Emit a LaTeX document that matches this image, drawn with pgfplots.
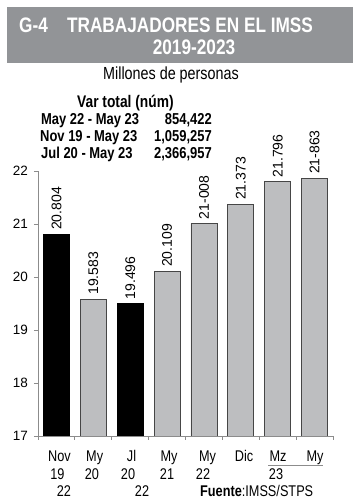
\documentclass[border=0pt]{standalone}
\usepackage{fontspec}
\setmainfont{Liberation Sans}
\newfontfamily\narrow{Liberation Sans}[FakeStretch=0.82]
\usepackage{pgfplots}
\pgfplotsset{compat=1.18}
\definecolor{titlegray}{RGB}{146,148,151}
\definecolor{bargray}{RGB}{189,190,192}
\definecolor{baredge}{RGB}{70,70,70}
\definecolor{axisgray}{RGB}{140,140,140}
\begin{document}
\begin{tikzpicture}
\begin{scope}[x=1pt,y=1pt]
\path[use as bounding box] (0,0) rectangle (360,500);
\fill[titlegray] (7,437) rectangle (353,493);
\node[anchor=base west, text=white, inner sep=0pt, font=\narrow\bfseries\fontsize{21}{21}\selectfont] at (19,467) {G-4};
\node[anchor=base, text=white, inner sep=0pt, font=\narrow\bfseries\fontsize{21}{21}\selectfont] at (190,467) {TRABAJADORES EN EL IMSS};
\node[anchor=base, text=white, inner sep=0pt, font=\narrow\bfseries\fontsize{21}{21}\selectfont] at (194,445) {2019-2023};
\node[anchor=base, inner sep=0pt, font=\narrow\fontsize{17.5}{17.5}\selectfont] at (171,420) {Millones de personas};
\begin{scope}[every node/.style={inner sep=0pt, font=\narrow\bfseries\fontsize{15.8}{15.8}\selectfont}]
\node[anchor=base west, font=\narrow\bfseries\fontsize{16.8}{16.8}\selectfont] at (77,392.5) {Var total (núm)};
\node[anchor=base west] at (41,375.5) {May 22 - May 23};
\node[anchor=base east] at (212,375.5) {854,422};
\node[anchor=base west] at (40,358.5) {Nov 19 - May 23};
\node[anchor=base east] at (212,358.5) {1,059,257};
\node[anchor=base west] at (41,341.5) {Jul 20 - May 23};
\node[anchor=base east] at (212,341.5) {2,366,957};
\end{scope}
\begin{scope}[every node/.style={inner sep=0pt, anchor=base, font=\narrow\fontsize{15.5}{15.5}\selectfont}]
\node at (59.5,38) {Nov}; \node at (57.5,20) {19}; \node at (64,3) {22};
\node at (94.7,38) {My}; \node at (92,20) {20};
\node at (131.5,38) {Jl}; \node at (128,20) {20}; \node at (142,3) {22};
\node at (169,38) {My}; \node at (167,20) {21};
\node at (207.5,38) {My}; \node at (203,20) {22};
\node at (244,38) {Dic};
\node at (278,38) {Mz}; \node at (276,20) {23};
\node at (315,38) {My};
\node[anchor=base west] at (200,3) {\textbf{Fuente}:IMSS/STPS};
\end{scope}
\draw[axisgray, line width=0.8pt] (268,35) -- (323,35);
\end{scope}
\begin{axis}[
  at={(38pt,64pt)}, anchor=south west,
  scale only axis, width=295pt, height=265pt,
  xmin=-0.5, xmax=7.5, ymin=17, ymax=22,
  axis x line*=bottom, axis y line*=left,
  axis line style={axisgray, line width=0.8pt},
  xtick={-0.5,0.5,...,7.5}, xticklabels={},
  ytick={17,18,19,20,21,22},
  tick align=outside, major tick length=4pt,
  tick style={axisgray, line width=0.8pt},
  /pgf/number format/assume math mode=true,
  yticklabel style={font=\fontsize{13.5}{13.5}\selectfont, inner sep=0pt, xshift=-6pt},
  clip mode=individual,
  point meta=explicit symbolic,
  nodes near coords,
  nodes near coords style={rotate=90, anchor=west, inner xsep=4pt, inner ysep=0pt, font=\fontsize{14}{14}\selectfont, text=black},
]
\addplot[ybar, bar width=26pt, bar shift=0pt, fill=black, draw=black, line width=0.8pt]
  coordinates {(0,20.804) [20.804] (2,19.496) [19.496]};
\addplot[ybar, bar width=26pt, bar shift=0pt, fill=bargray, draw=baredge, line width=0.8pt]
  coordinates {(1,19.583) [19.583] (3,20.109) [20.109] (4,21.008) [21-008] (5,21.373) [21.373] (6,21.796) [21.796] (7,21.863) [21-863]};
\end{axis}
\end{tikzpicture}
\end{document}
